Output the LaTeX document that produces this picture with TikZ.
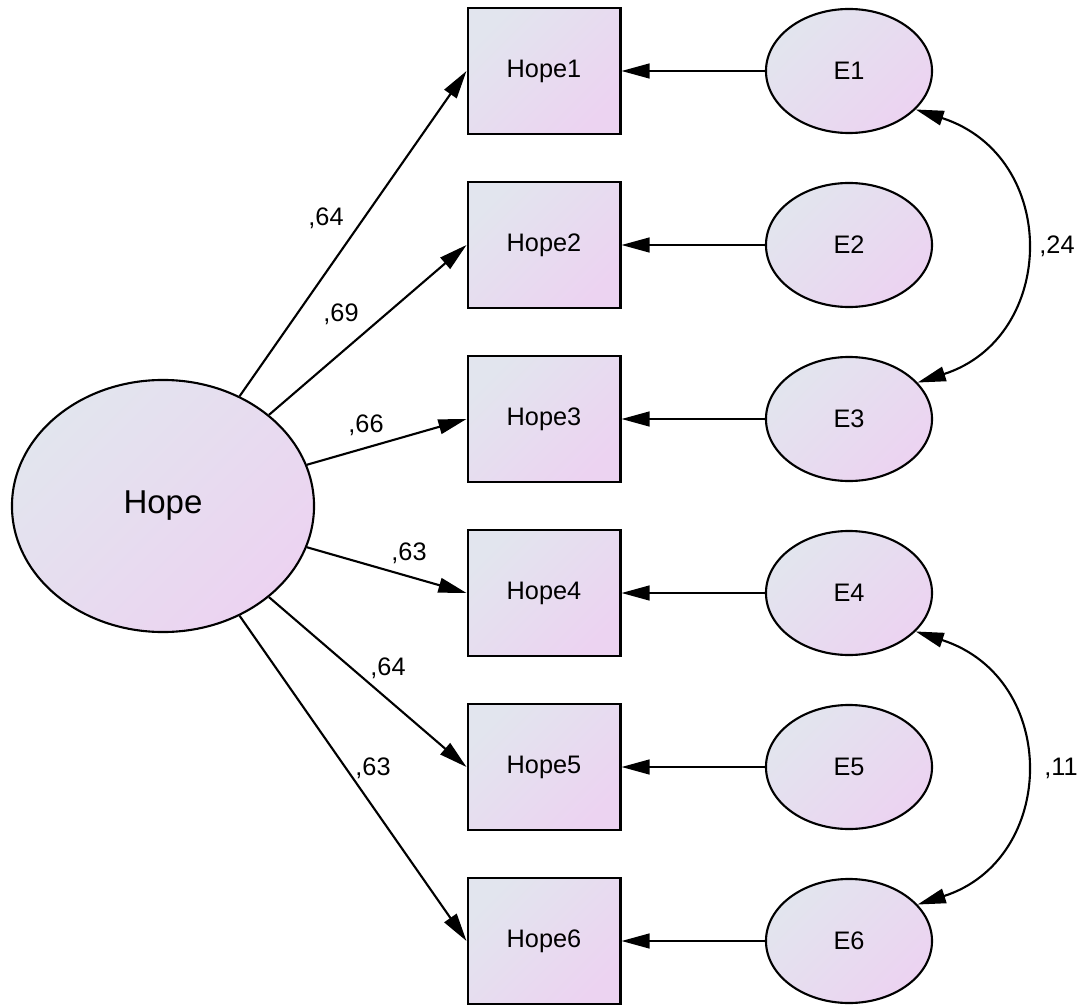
\documentclass[tikz,border=0pt]{standalone}
\usepackage{fontspec}
\setmainfont{Liberation Sans}
\usetikzlibrary{shapes.geometric,arrows.meta}
\definecolor{fillgray}{HTML}{E2E5EE}
\definecolor{filllilac}{HTML}{ECD3F1}
\begin{document}
\begin{tikzpicture}[x=0.025cm,y=-0.025cm,
    shaded/.style={left color=fillgray, right color=filllilac, shading angle=45},
    latent/.style={ellipse, draw, line width=1.5pt, shaded, inner sep=0pt,
        minimum width=7.55cm, minimum height=6.3cm, font=\fontsize{23.5}{27}\selectfont},
    errnode/.style={ellipse, draw, line width=1.5pt, shaded, inner sep=0pt,
        minimum width=4.15cm, minimum height=3.1cm, font=\fontsize{18}{21}\selectfont},
    item/.style={rectangle, draw, line width=2.1pt, shaded, inner sep=0pt,
        minimum width=3.8cm, minimum height=3.15cm, font=\fontsize{18}{21}\selectfont},
    lbl/.style={font=\fontsize{18}{21}\selectfont},
    path/.style={line width=1.5pt, -{Triangle[length=20pt,width=10.5pt]}},
    cov/.style={line width=1.5pt, {Triangle[length=20pt,width=10.5pt]}-{Triangle[length=20pt,width=10.5pt]}}]
    \useasboundingbox (0,0) rectangle (1088,1005);

    \node[latent] (hope) at (163,506) {Hope};

    \node[item] (h1) at (544,71) {Hope1};
    \node[item] (h2) at (544,245) {Hope2};
    \node[item] (h3) at (544,419) {Hope3};
    \node[item] (h4) at (544,593) {Hope4};
    \node[item] (h5) at (544,767) {Hope5};
    \node[item] (h6) at (544,941) {Hope6};

    \node[errnode] (e1) at (849,71) {E1};
    \node[errnode] (e2) at (849,245) {E2};
    \node[errnode] (e3) at (849,419) {E3};
    \node[errnode] (e4) at (849,593) {E4};
    \node[errnode] (e5) at (849,767) {E5};
    \node[errnode] (e6) at (849,941) {E6};

    \draw[path] (hope) -- (h1.west);
    \draw[path] (hope) -- (h2.west);
    \draw[path] (hope) -- (h3.west);
    \draw[path] (hope) -- (h4.west);
    \draw[path] (hope) -- (h5.west);
    \draw[path] (hope) -- (h6.west);

    \draw[path] (e1) -- (h1);
    \draw[path] (e2) -- (h2);
    \draw[path] (e3) -- (h3);
    \draw[path] (e4) -- (h4);
    \draw[path] (e5) -- (h5);
    \draw[path] (e6) -- (h6);

    \draw[cov] (e1.-30) .. controls +(145,47) and +(140,-45) .. (e3.28);
    \draw[cov] (e4.-30) .. controls +(145,47) and +(140,-45) .. (e6.28);

    \node[lbl] (w1) at (326,218) {,64};
    \node[lbl] (w2) at (341,314) {,69};
    \node[lbl] (w3) at (366,425) {,66};
    \node[lbl] (w4) at (409,553) {,63};
    \node[lbl] (w5) at (388,668) {,64};
    \node[lbl] (w6) at (373,768) {,63};
    \node[lbl] (c13) at (1057,246) {,24};
    \node[lbl] (c46) at (1061,768) {,11};
\end{tikzpicture}
\end{document}
